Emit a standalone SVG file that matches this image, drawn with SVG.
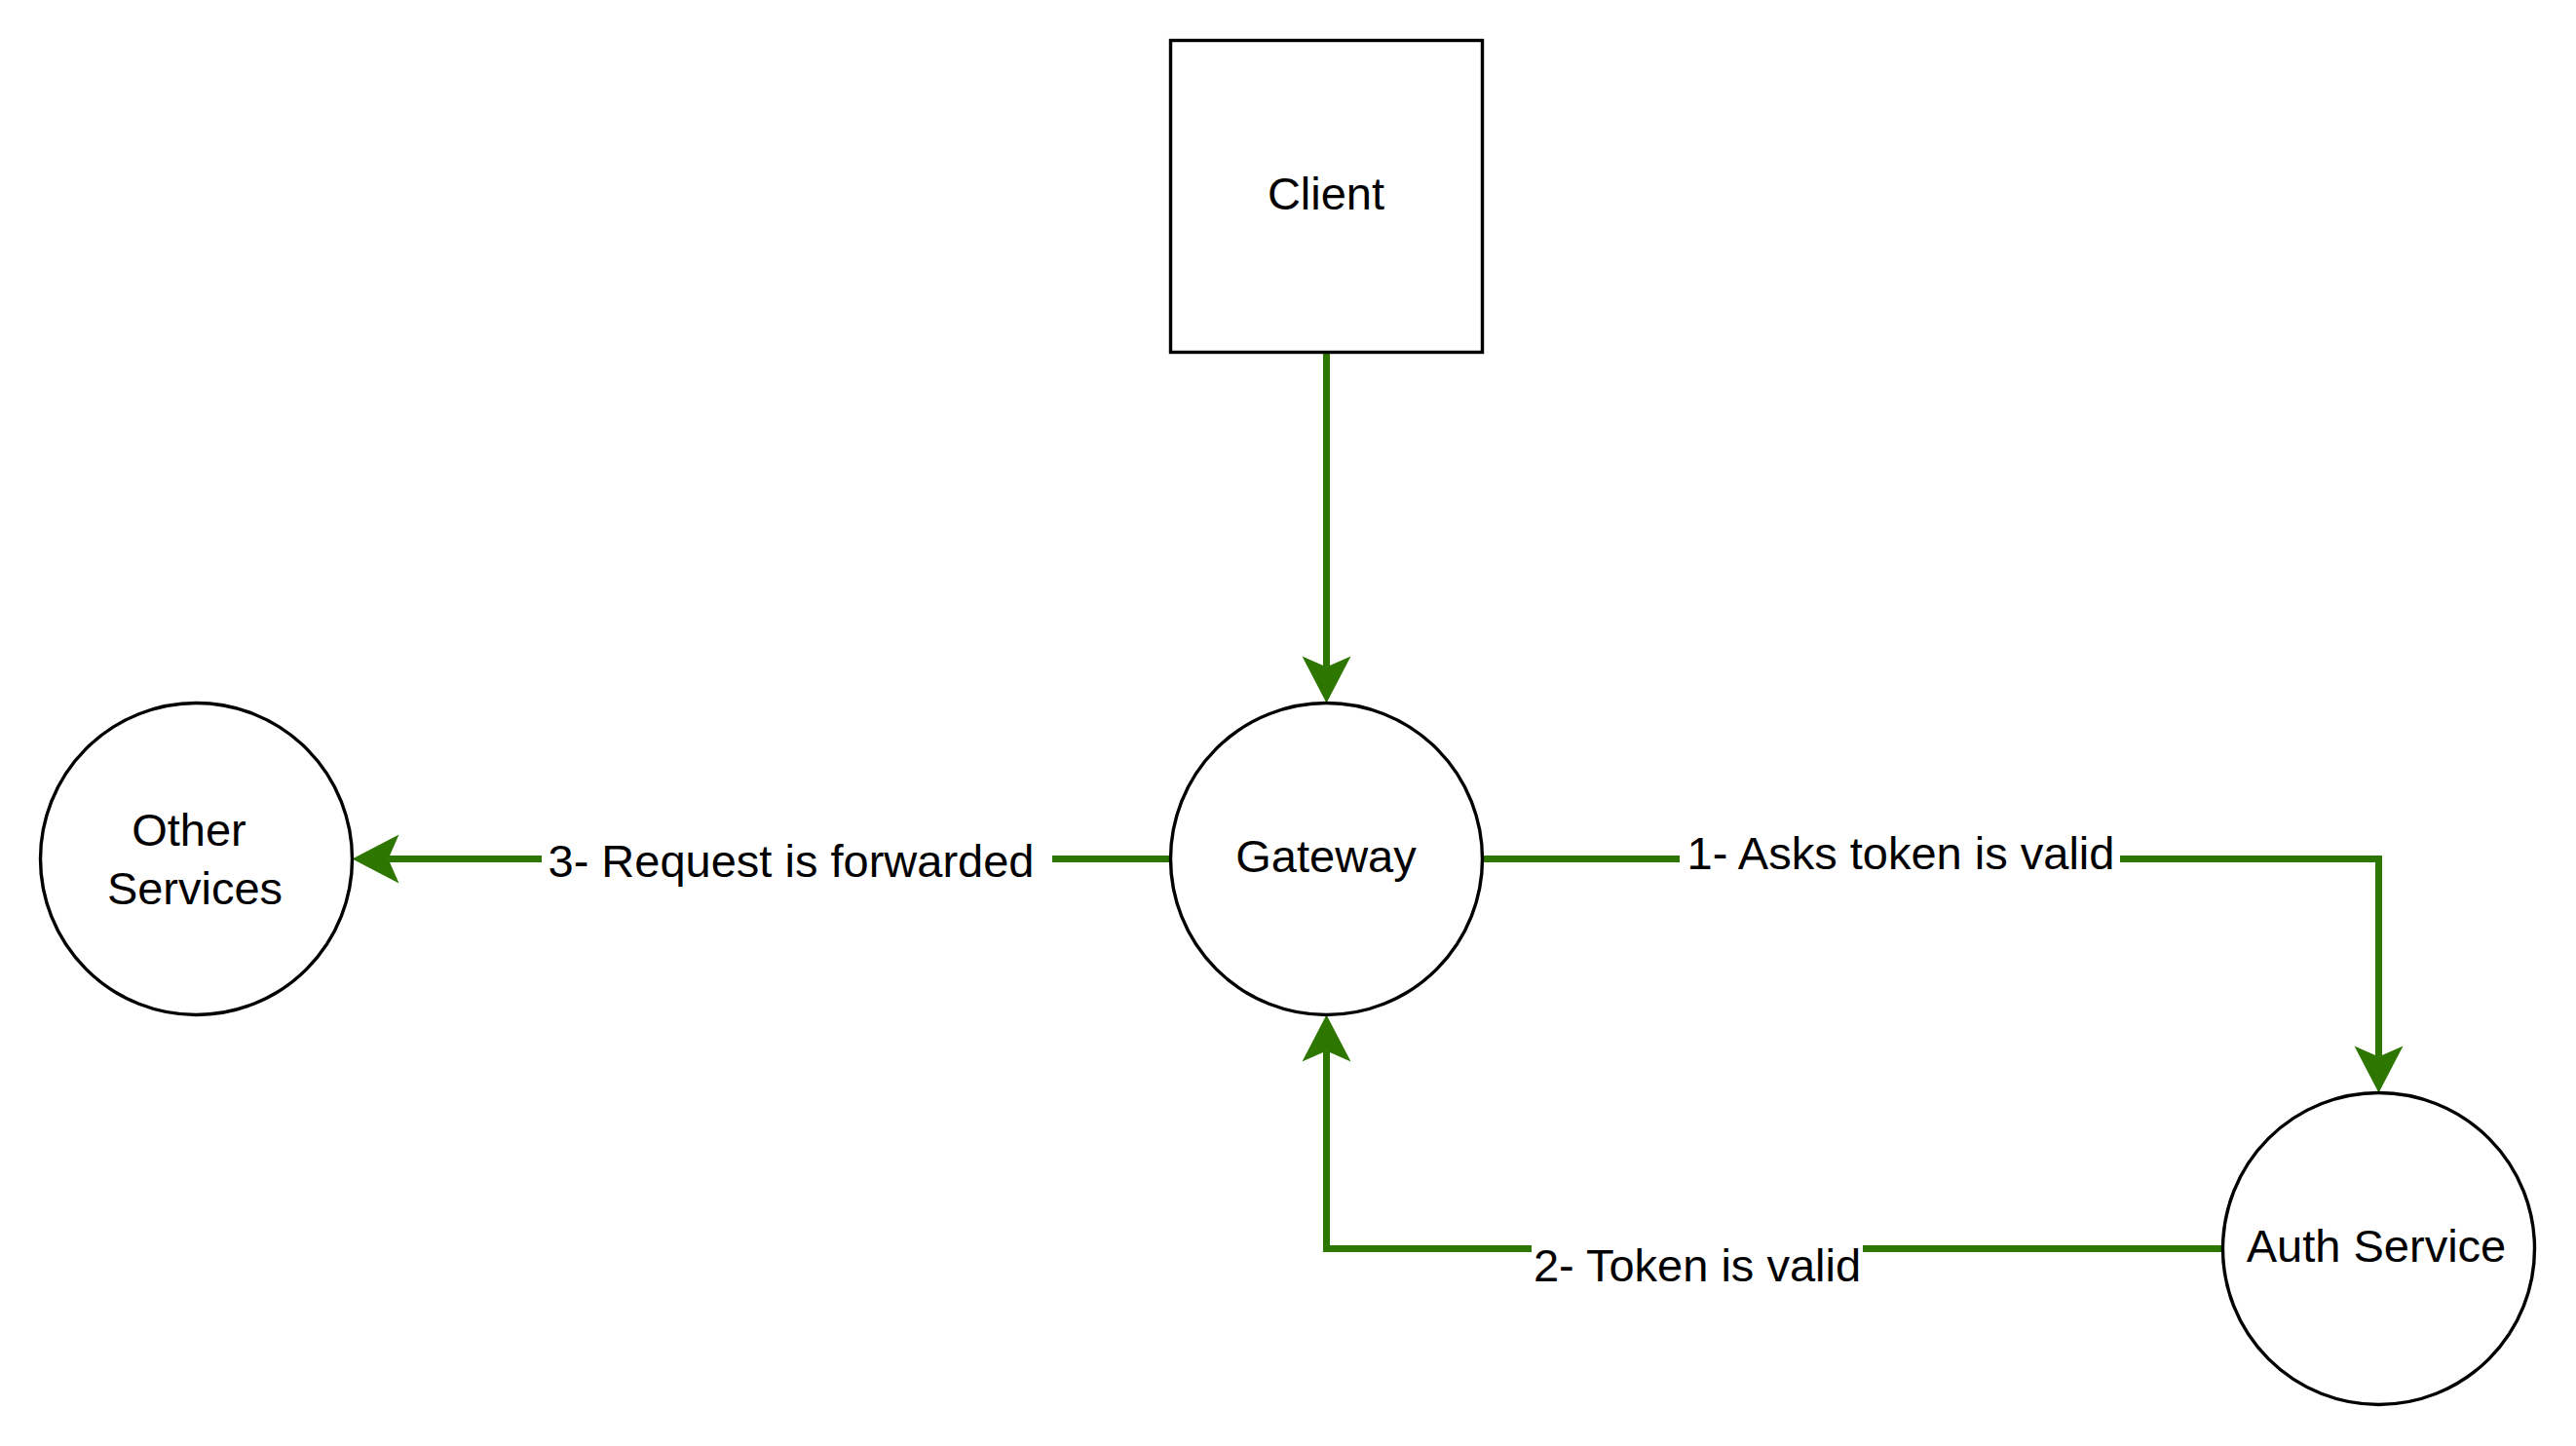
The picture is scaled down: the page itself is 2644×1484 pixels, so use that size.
<svg xmlns="http://www.w3.org/2000/svg" width="2644" height="1484" viewBox="0 0 2644 1484">
<style>
.node{fill:#ffffff;stroke:#000000;stroke-width:3.4}
.ntxt{font-family:"Liberation Sans",Arial,sans-serif;font-size:47px;fill:#000000;text-anchor:middle}
.edge{fill:none;stroke:#2D7600;stroke-width:7;stroke-linejoin:miter;stroke-linecap:butt}
.ltxt{font-family:"Liberation Sans",Arial,sans-serif;font-size:47px;fill:#000000;text-anchor:middle}
.lbg{fill:#ffffff;stroke:none}
</style>
<defs>
<marker id="arrow" markerUnits="userSpaceOnUse" markerWidth="60" markerHeight="60" refX="0" refY="0" orient="auto" overflow="visible">
<path d="M37,0 L-11,-25 L0,0 L-11,25 Z" fill="#2D7600" stroke="none"/>
</marker>
</defs>
<rect width="2644" height="1484" fill="#ffffff"/>
<g id="connectors">
<path class="edge" d="M1361.5,361.5 L1361.5,684.5" marker-end="url(#arrow)"/>
<path class="edge" d="M1521.5,881.5 L2441.5,881.5 L2441.5,1084.5" marker-end="url(#arrow)"/>
<path class="edge" d="M2281.5,1281.5 L1361.5,1281.5 L1361.5,1078.5" marker-end="url(#arrow)"/>
<path class="edge" d="M1201.5,881.5 L398.5,881.5" marker-end="url(#arrow)"/>
<g id="label-1">
<rect class="lbg" x="1724" y="852" width="452" height="52"/>
<text class="ltxt" x="1951" y="892">1- Asks token is valid</text>
</g>
<g id="label-2">
<rect class="lbg" x="1572" y="1275" width="340" height="52"/>
<text class="ltxt" x="1742" y="1315">2- Token is valid</text>
</g>
<g id="label-3">
<rect class="lbg" x="556" y="860" width="524" height="52"/>
<text class="ltxt" x="812" y="900">3- Request is forwarded</text>
</g>
</g>
<g id="client">
<rect class="node" x="1201.5" y="41.5" width="320" height="320"/>
<text class="ntxt" x="1361" y="215">Client</text>
</g>
<g id="gateway">
<circle class="node" cx="1361.5" cy="881.5" r="160"/>
<text class="ntxt" x="1361" y="895">Gateway</text>
</g>
<g id="other-services">
<circle class="node" cx="201.5" cy="881.5" r="160"/>
<text class="ntxt" x="194" y="868">Other</text>
<text class="ntxt" x="200" y="928">Services</text>
</g>
<g id="auth-service">
<circle class="node" cx="2441.5" cy="1281.5" r="160"/>
<text class="ntxt" x="2439" y="1295">Auth Service</text>
</g>
</svg>
